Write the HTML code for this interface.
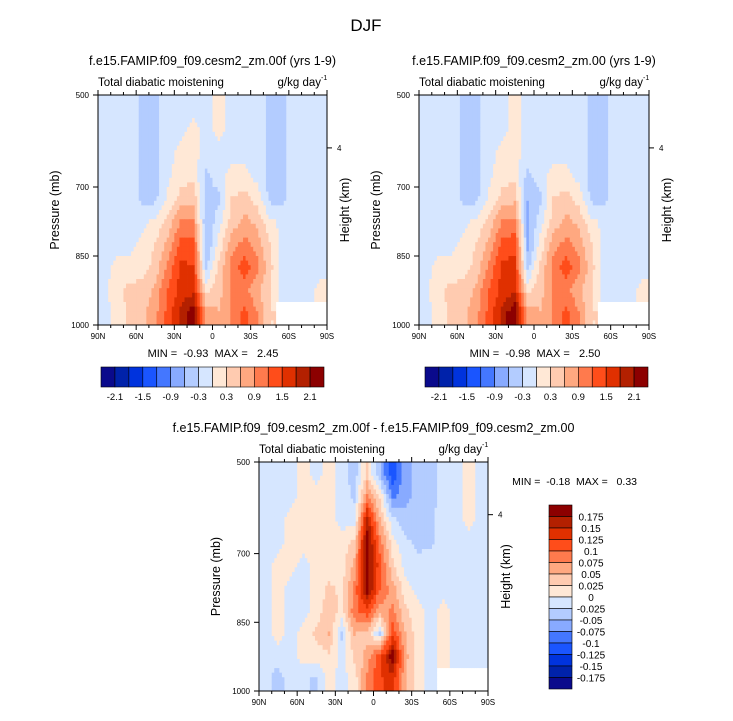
<!DOCTYPE html>
<html><head><meta charset="utf-8"><style>
body{margin:0;background:#fff;width:733px;height:716px;overflow:hidden;font-family:"Liberation Sans",sans-serif}
svg text{font-family:"Liberation Sans",sans-serif;fill:#000;white-space:pre}
</style></head><body>
<svg id="fig" width="733" height="716" viewBox="0 0 733 716" xmlns="http://www.w3.org/2000/svg">
<text x="366" y="31" font-size="17" text-anchor="middle">DJF</text>
</svg>
<script>
const colors=["#0a0a8c","#0022aa","#0033dd","#1a55ff","#4477ff","#88aaff","#b3ccff","#d6e6ff","#ffe8d6","#ffcbb0","#ffa880","#ff7a4d","#ff4d1a","#e03000","#b32000","#8c0000"];
const lats=["90N","80N","70N","60N","50N","40N","30N","20N","10N","0","10S","20S","30S","40S","50S","60S","70S","80S","90S"];
const pressLevels=[500,550,600,650,700,750,800,850,900,950,1000];
const xTickLabels=["90N","60N","30N","0","30S","60S","90S"];
const yTickLabels=[500,700,850,1000];
const topLevels=[-2.1,-1.8,-1.5,-1.2,-0.9,-0.6,-0.3,0,0.3,0.6,0.9,1.2,1.5,1.8,2.1];
const topBarLabels=["-2.1","-1.5","-0.9","-0.3","0.3","0.9","1.5","2.1"];
const diffLevels=[-0.175,-0.15,-0.125,-0.1,-0.075,-0.05,-0.025,0,0.025,0.05,0.075,0.1,0.125,0.15,0.175];
const diffBarLabels=["0.175","0.15","0.125","0.1","0.075","0.05","0.025","0","-0.025","-0.05","-0.075","-0.1","-0.125","-0.15","-0.175"];
const N=null;
const topLeftValues=[
[-0.1,-0.1,-0.1,-0.4,-0.4,-0.1,-0.1,-0.1,-0.1,0.1,-0.1,-0.1,-0.1,-0.4,-0.4,-0.1,-0.1,-0.1],
[-0.1,-0.1,-0.1,-0.4,-0.4,-0.1,-0.1,0.1,-0.1,0.1,-0.1,-0.1,-0.1,-0.4,-0.4,-0.1,-0.1,-0.1],
[-0.1,-0.1,-0.1,-0.4,-0.4,-0.1,0.1,0.1,-0.1,-0.1,-0.1,-0.1,-0.1,-0.4,-0.4,-0.1,-0.1,-0.1],
[-0.1,-0.1,-0.1,-0.4,-0.4,-0.1,0.2,0.2,-0.4,-0.1,0.1,0.1,-0.1,-0.4,-0.4,-0.1,-0.1,-0.1],
[-0.1,-0.1,-0.1,-0.4,-0.4,0.1,0.4,0.5,-0.4,-0.4,0.3,0.4,0.2,-0.4,-0.4,-0.1,-0.1,-0.1],
[-0.1,-0.1,-0.1,-0.1,0.1,0.4,0.9,0.9,-0.6,-0.1,0.4,0.7,0.5,0.1,-0.1,-0.1,-0.1,-0.1],
[-0.1,-0.1,-0.1,0.1,0.3,0.7,1.3,1.3,-0.6,0.1,0.8,1.0,0.8,0.3,-0.1,-0.1,-0.1,-0.1],
[-0.1,0.1,0.1,0.2,0.4,1.0,1.6,1.5,-0.4,0.4,1.0,1.4,1.0,0.4,-0.1,-0.1,-0.1,-0.1],
[-0.1,0.2,0.4,0.4,0.7,1.2,1.6,1.7,0.2,0.5,0.9,1.0,0.7,0.3,-0.1,-0.1,-0.1,0.1],
[-0.1,0.1,0.4,0.5,0.8,1.3,1.9,2.3,0.8,0.6,0.9,1.3,0.9,0.3,N,N,N,N]];
const topRightValues=[
[-0.1,-0.1,-0.1,-0.4,-0.4,-0.1,-0.1,0.1,-0.1,-0.1,-0.1,-0.1,-0.1,-0.4,-0.4,-0.1,-0.1,-0.1],
[-0.1,-0.1,-0.1,-0.4,-0.4,-0.1,-0.1,0.1,-0.1,-0.1,-0.1,-0.1,-0.1,-0.4,-0.4,-0.1,-0.1,-0.1],
[-0.1,-0.1,-0.1,-0.4,-0.4,-0.1,0.1,0.1,-0.1,-0.1,-0.1,-0.1,-0.1,-0.4,-0.4,-0.1,-0.1,-0.1],
[-0.1,-0.1,-0.1,-0.4,-0.4,-0.1,0.2,0.2,-0.4,-0.1,0.1,0.1,-0.1,-0.4,-0.4,-0.1,-0.1,-0.1],
[-0.1,-0.1,-0.1,-0.4,-0.4,0.1,0.4,0.5,-0.6,-0.4,0.3,0.4,0.2,-0.4,-0.4,-0.1,-0.1,-0.1],
[-0.1,-0.1,-0.1,-0.1,0.1,0.4,0.9,1.0,-0.7,-0.1,0.4,0.7,0.5,0.1,-0.1,-0.1,-0.1,-0.1],
[-0.1,-0.1,-0.1,0.1,0.3,0.7,1.3,1.4,-0.7,0.1,0.8,1.0,0.8,0.3,-0.1,-0.1,-0.1,-0.1],
[-0.1,0.1,0.1,0.2,0.4,1.0,1.6,1.6,-0.4,0.4,1.0,1.4,1.0,0.4,-0.1,-0.1,-0.1,-0.1],
[-0.1,0.2,0.4,0.4,0.7,1.2,1.6,1.7,0.2,0.5,0.9,1.0,0.7,0.3,-0.1,-0.1,-0.1,0.1],
[-0.1,0.1,0.4,0.5,0.8,1.3,1.9,2.4,0.8,0.6,0.9,1.3,0.9,0.3,N,N,N,N]];
const diffValues=[
[-0.01,-0.01,-0.01,0.01,-0.01,0.01,-0.01,-0.04,0.03,-0.05,-0.12,-0.06,-0.04,-0.04,-0.01,-0.01,0.01,-0.01],
[-0.01,-0.01,-0.01,0.01,0.01,0.01,-0.01,-0.03,0.08,0.02,-0.08,-0.06,-0.04,-0.04,-0.01,-0.01,0.01,-0.01],
[-0.01,-0.01,0.01,0.01,0.01,0.01,-0.01,-0.01,0.16,0.05,-0.02,-0.04,-0.04,-0.03,-0.01,-0.01,0.01,-0.01],
[-0.01,-0.01,0.01,0.01,0.01,0.01,0.01,0.03,0.19,0.09,0.01,-0.02,-0.03,-0.03,-0.01,-0.01,-0.01,-0.01],
[-0.01,0.01,0.01,-0.01,0.01,0.01,0.01,0.06,0.19,0.11,0.03,-0.01,-0.02,-0.01,-0.01,-0.01,-0.01,-0.01],
[-0.01,0.01,-0.01,-0.01,0.01,0.03,0.02,0.08,0.19,0.1,0.06,0.01,-0.01,-0.01,-0.01,-0.01,-0.01,-0.01],
[-0.01,0.01,-0.01,-0.01,0.01,0.04,0.02,0.09,0.12,0.06,0.08,0.03,0.01,-0.01,0.01,-0.01,-0.01,-0.01],
[-0.01,0.01,-0.01,0.01,0.03,0.05,-0.03,0.05,0.04,-0.03,0.12,0.05,0.01,-0.01,0.01,-0.01,-0.01,-0.01],
[-0.02,-0.01,-0.01,0.01,0.01,0.02,-0.01,0.03,0.06,0.12,0.19,0.06,0.01,-0.01,0.01,-0.01,-0.01,-0.01],
[-0.01,-0.04,-0.01,-0.02,-0.03,0.01,-0.01,0.01,0.08,0.12,0.14,0.05,0.01,-0.01,N,N,N,N]];

const NS="http://www.w3.org/2000/svg";
const svg=document.getElementById('fig');
function mk(tag,attrs,parent){const e=document.createElementNS(NS,tag);for(const k in attrs)e.setAttribute(k,attrs[k]);(parent||svg).appendChild(e);return e;}
function txt(x,y,s,size,anchor,parent,extra){const t=mk('text',Object.assign({x:x,y:y,'font-size':size,'text-anchor':anchor||'start'},extra||{}),parent);t.textContent=s;return t;}
function colorFor(v,levels){if(v===null)return '#ffffff';let i=0;while(i<levels.length&&v>=levels[i])i++;return colors[i];}

function drawPanel(px,py,w,h,values,levels,title,name){
  const g=mk('g',{});
  
  
  const xs=lat=>px+w*(lat/180);
  const ys=p=>py+h*(p-500)/500;
  const rows=values.length, cols=values[0].length;
  const sub=5;
  function val(r,c){r=Math.max(0,Math.min(rows-1,r));c=Math.max(0,Math.min(cols-1,c));return values[r][c];}
  for(let r=0;r<rows;r++)for(let c=0;c<cols;c++){
    for(let a=0;a<sub;a++)for(let b=0;b<sub;b++){
      const fr=r+(a+0.5)/sub-0.5, fc=c+(b+0.5)/sub-0.5;
      const r0=Math.floor(fr),c0=Math.floor(fc),tr=fr-r0,tc=fc-c0;
      const q=[val(r0,c0),val(r0,c0+1),val(r0+1,c0),val(r0+1,c0+1)];
      let v;
      if(values[r][c]===null)v=null;
      else{const qq=q.map(x=>x===null?values[r][c]:x);v=qq[0]*(1-tr)*(1-tc)+qq[1]*(1-tr)*tc+qq[2]*tr*(1-tc)+qq[3]*tr*tc;}
      const x0=xs((c+b/sub)*10),x1=xs((c+(b+1)/sub)*10);
      const y0=ys(pressLevels[r]+50*a/sub),y1=ys(pressLevels[r]+50*(a+1)/sub);
      const cell=mk('rect',{x:x0.toFixed(2),y:y0.toFixed(2),width:(x1-x0+0.4).toFixed(2),height:(y1-y0+0.4).toFixed(2),fill:colorFor(v,levels)},g);
      
      
    }
  }
  mk('rect',{x:px,y:py,width:w,height:h,fill:'none',stroke:'#000','stroke-width':1},g);
  for(let i=0;i<=18;i++){
    const x=xs(i*10),len=i%3===0?5:3;
    mk('line',{x1:x,y1:py+h,x2:x,y2:py+h+len,stroke:'#000','stroke-width':1},g);
    mk('line',{x1:x,y1:py,x2:x,y2:py-len,stroke:'#000','stroke-width':1},g);
  }
  xTickLabels.forEach((l,i)=>{const t=txt(xs(i*30),py+h+14,l,8,'middle',g);});
  yTickLabels.forEach(p=>{const y=ys(p);mk('line',{x1:px-5,y1:y,x2:px,y2:y,stroke:'#000'},g);
    const t=txt(px-9,y+3,String(p),8,'end',g);});
  const yh=ys(615);
  mk('line',{x1:px+w,y1:yh,x2:px+w+5,y2:yh,stroke:'#000'},g);
  txt(px+w+10,yh+3,'4',8,'start',g);
  const t1=txt(px+w/2,py-30,title,12.5,'middle',g);
  const t2=txt(px,py-9,'Total diabatic moistening',11.5,'start',g);
  const t3=txt(px+w-6,py-9,'g/kg day',11.5,'end',g);
  txt(px+w-6,py-15,'-1',7,'start',g);
  const yl=txt(0,0,'Pressure (mb)',12.5,'middle',g,{transform:`translate(${px-39},${py+h/2}) rotate(-90)`});
  
  const hl=txt(0,0,'Height (km)',12.5,'middle',g,{transform:`translate(${px+w+22},${py+h/2}) rotate(-90)`});
  
}
function hbar(x,y,w,h,labels,name){
  const g=mk('g',{});
  
  
  const bw=w/16;
  colors.forEach((c,i)=>{const r=mk('rect',{x:x+i*bw,y:y,width:bw,height:h,fill:c,stroke:'#000','stroke-width':0.6},g);
    });
  labels.forEach((l,i)=>{txt(x+bw*(1+2*i),y+h+13,l,9.5,'middle',g);});
}
drawPanel(98,95,229,230,topLeftValues,topLevels,'f.e15.FAMIP.f09_f09.cesm2_zm.00f (yrs 1-9)','panel-top-left');
drawPanel(419,95,230,230,topRightValues,topLevels,'f.e15.FAMIP.f09_f09.cesm2_zm.00 (yrs 1-9)','panel-top-right');
drawPanel(259,462,229,229,diffValues,diffLevels,'f.e15.FAMIP.f09_f09.cesm2_zm.00f - f.e15.FAMIP.f09_f09.cesm2_zm.00','panel-difference');
let s=txt(213,357,'MIN =  -0.93  MAX =   2.45',11,'middle');
s=txt(535,357,'MIN =  -0.98  MAX =   2.50',11,'middle');
s=txt(637,485,'MIN =  -0.18  MAX =   0.33',10.5,'end');
hbar(101,367,223,20,topBarLabels,'colorbar-left');
hbar(425,367,223,20,topBarLabels,'colorbar-right');
const vg=mk('g',{});


const vx=549,vy=505,vw=23,vh=184,bh=vh/16;
colors.slice().reverse().forEach((c,i)=>{const r=mk('rect',{x:vx,y:vy+i*bh,width:vw,height:bh,fill:c,stroke:'#000','stroke-width':0.6},vg);
  });
diffBarLabels.forEach((l,i)=>{txt(vx+42,vy+bh*(i+1)+4,l,10,'middle',vg);});
</script>
</body></html>
